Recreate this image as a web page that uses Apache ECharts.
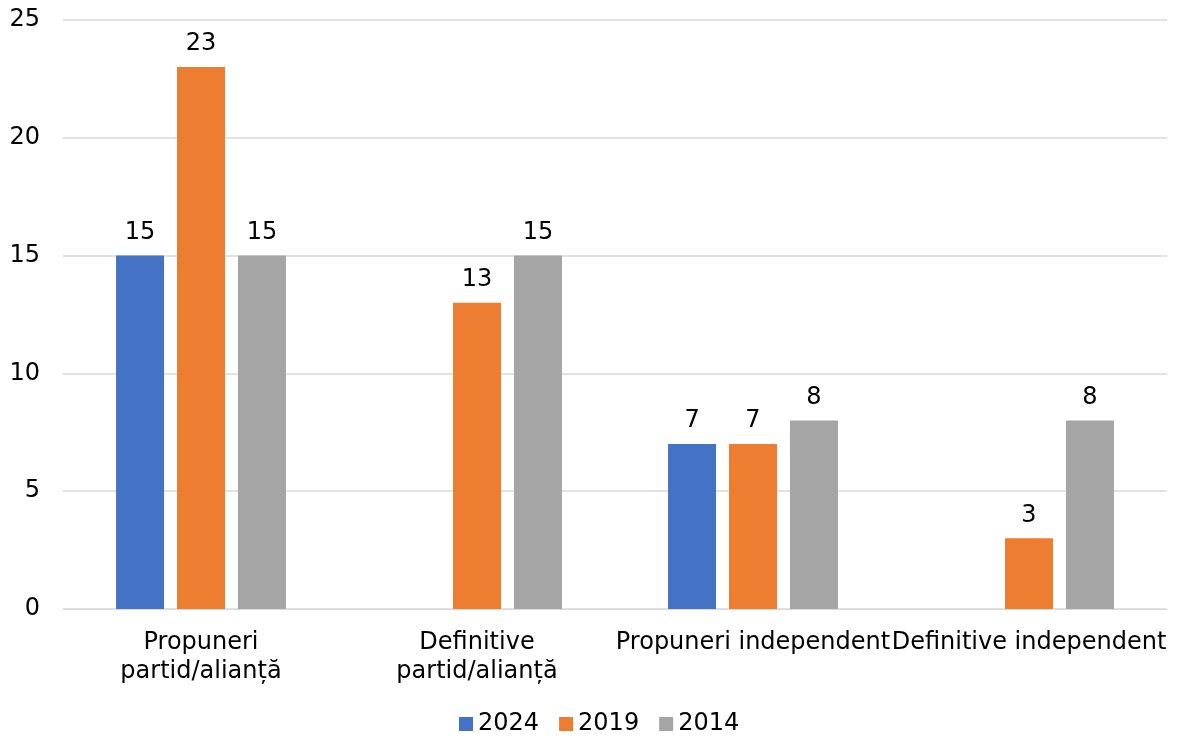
<!DOCTYPE html>
<html>
<head>
<meta charset="utf-8">
<style>
  html, body { margin: 0; padding: 0; background: #fff; }
  #chart { width: 1177px; height: 738px; }
</style>
<script src="https://cdn.jsdelivr.net/npm/echarts@6/dist/echarts.min.js"></script>
</head>
<body>
<div id="chart"></div>
<script>
var categories = ['Propuneri\npartid/alianță', 'Definitive\npartid/alianță', 'Propuneri independent', 'Definitive independent'];
var years = ['2024', '2019', '2014'];
var values2024 = [15, null, 7, null];
var values2019 = [23, 13, 7, 3];
var values2014 = [15, 15, 8, 8];
var colors = ['#4472C4', '#ED7D31', '#A5A5A5'];

var font = '"DejaVu Sans", Verdana, sans-serif';

function makeSeries(name, data, color) {
    return {
        name: name,
        type: 'bar',
        data: data,
        barWidth: 48,
        barGap: '27%',
        itemStyle: { color: color },
        label: {
            show: true,
            position: 'top',
            distance: 11,
            color: '#000',
            fontSize: 24,
            fontFamily: font
        }
    };
}

var myChart = echarts.init(document.getElementById('chart'));
var option = {
    animation: false,
    grid: { left: 63, right: 10, top: 20, bottom: 129 },
    legend: {
        data: years,
        left: 454,
        top: 707,
        itemWidth: 14,
        itemHeight: 14,
        itemGap: 20,
        icon: 'rect',
        textStyle: { fontSize: 24, fontFamily: font, color: '#000' }
    },
    xAxis: {
        type: 'category',
        data: categories,
        axisTick: { show: false },
        axisLine: { lineStyle: { color: '#d9d9d9' } },
        axisLabel: {
            interval: 0,
            margin: 19,
            fontSize: 24,
            lineHeight: 29,
            color: '#000',
            fontFamily: font
        }
    },
    yAxis: {
        type: 'value',
        min: 0,
        max: 25,
        interval: 5,
        axisLabel: { fontSize: 24, color: '#000', fontFamily: font, margin: 23 },
        splitLine: { lineStyle: { color: '#d9d9d9', width: 1.5 } }
    },
    series: [
        makeSeries(years[0], values2024, colors[0]),
        makeSeries(years[1], values2019, colors[1]),
        makeSeries(years[2], values2014, colors[2])
    ]
};
myChart.setOption(option);
</script>
</body>
</html>
